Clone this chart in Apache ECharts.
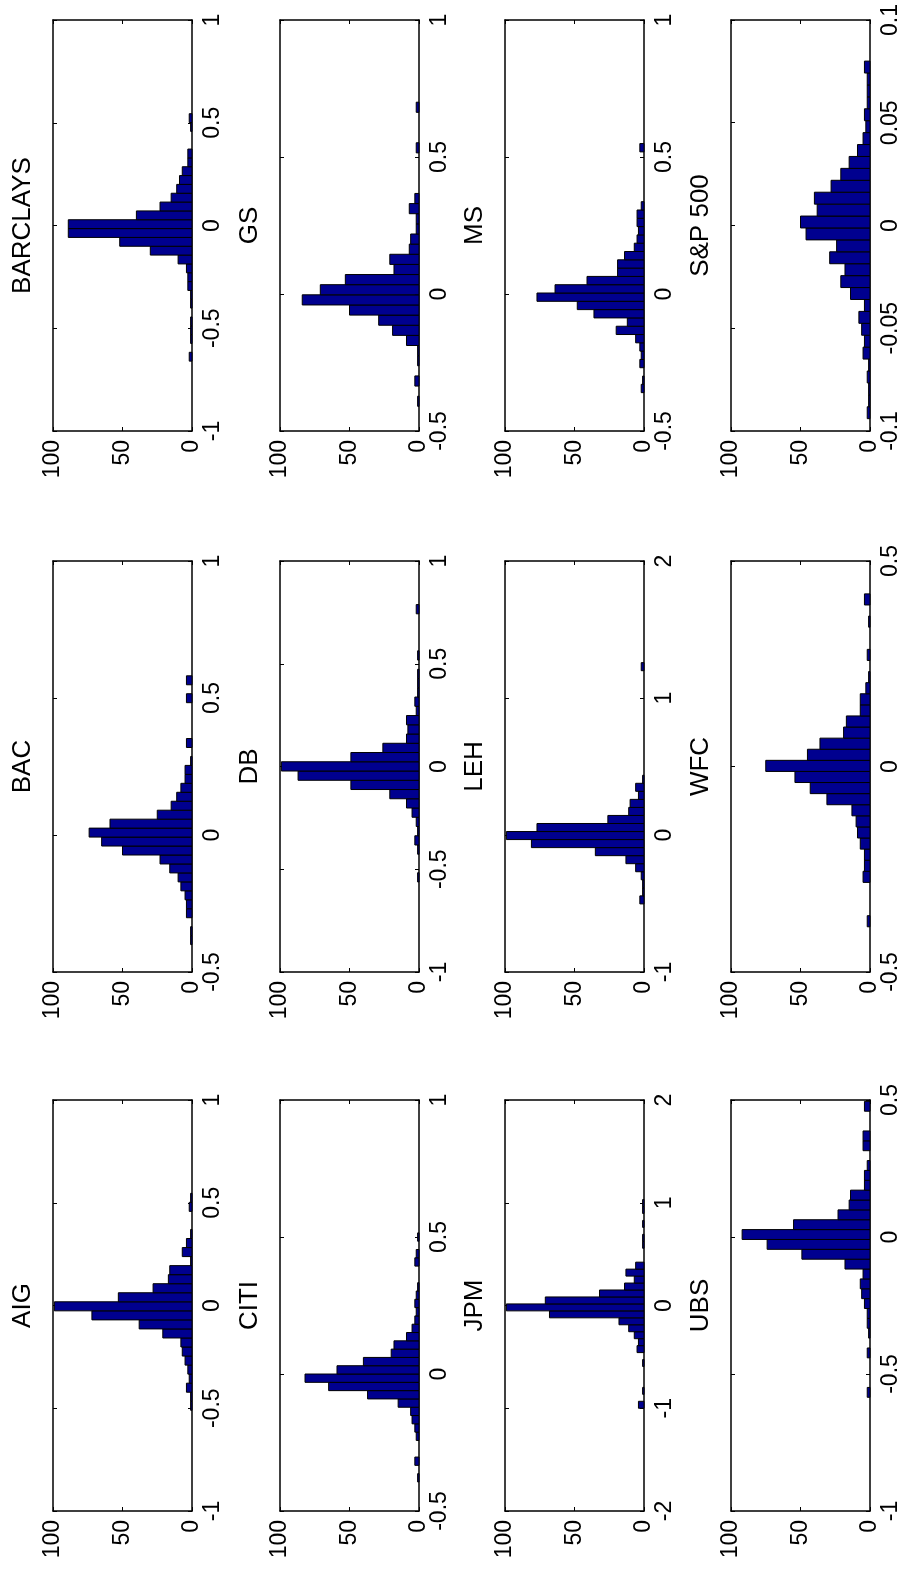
<!DOCTYPE html>
<html>
<head>
<meta charset="utf-8">
<script src="https://cdn.jsdelivr.net/npm/echarts@6/dist/echarts.min.js"></script>
<style>
html,body{margin:0;padding:0;background:#fff;}
#chart{width:906px;height:1574px;}
</style>
</head>
<body>
<div id="chart"></div>
<script>
// ---------- DATA ----------
// panels in picture order: rows top->bottom, columns left->right
const panelNames = ['BARCLAYS', 'GS', 'MS', 'S&P 500',
                    'BAC', 'DB', 'LEH', 'WFC',
                    'AIG', 'CITI', 'JPM', 'UBS'];
// histogram bin start (lower edge of first bin) and bin width
const binStart = [-0.66, -0.41, -0.36, -0.094,
                  -0.40, -0.562, -0.503, -0.39,
                  -0.51, -0.394, -1.0, -0.585];
const binWidth = [0.043, 0.037, 0.0303, 0.0058,
                  0.0327, 0.045, 0.0587, 0.027,
                  0.044, 0.0303, 0.0677, 0.036];
// value-axis ranges and tick steps
const axisMin  = [-1, -0.5, -0.5, -0.1,  -0.5, -1, -1, -0.5,  -1, -0.5, -2, -1];
const axisMax  = [ 1,  1,    1,    0.1,   1,    1,  2,  0.5,   1,  1,    2,  0.5];
const axisStep = [0.5, 0.5, 0.5, 0.05,  0.5, 0.5, 1, 0.5,  0.5, 0.5, 1, 0.5];
// count axis
const countTicks = [0, 50, 100];

// bin counts
const countsBARCLAYS = [2,0,1,1,1,0,1,1,3,3,4,10,30,52,89,89,40,23,15,11,9,7,3,3,0,0,1,2];
const countsGS  = [1,0,3,0,1,1,9,19,29,50,84,71,53,18,21,7,6,2,2,7,3,0,0,0,0,2,0,0,0,2];
const countsMS  = [2,1,0,3,2,3,6,20,12,36,48,77,64,41,19,19,14,7,5,4,5,5,2,0,0,0,0,0,0,3];
const countsSP  = [2,1,1,2,1,5,4,6,8,4,14,21,18,29,24,46,50,38,40,28,21,15,9,5,3,4,2,2,2,4];
const countsBAC = [1,1,0,4,4,5,8,10,16,23,50,65,74,59,25,15,11,8,5,5,1,0,4,0,0,0,0,4,0,4];
const countsDB  = [1,0,0,1,3,1,2,5,9,21,49,87,99,49,26,9,8,9,2,3,1,1,1,0,1,0,0,0,0,2];
const countsLEH = [3,1,1,2,6,13,35,81,99,77,26,11,10,4,6,1,0,0,0,0,0,0,0,0,0,0,0,0,0,2];
const countsWFC = [2,0,0,0,5,4,4,7,9,10,13,31,43,54,75,45,36,19,17,7,7,3,1,0,2,0,0,1,0,4];
const countsAIG = [1,1,4,2,3,5,7,8,21,38,72,99,53,28,17,16,1,7,4,1,0,0,2,1];
const countsCITI= [1,0,3,0,0,2,3,5,6,15,37,65,82,59,40,20,18,9,5,3,2,3,2,1,0,0,3,2,0,1];
const countsJPM = [4,0,1,0,0,0,1,0,5,4,7,11,18,68,99,71,32,14,7,13,6,0,0,1,1,0,1,0,1,1];
const countsUBS = [2,0,0,0,2,0,1,2,2,4,6,7,5,18,49,74,92,55,23,15,14,4,4,2,0,5,5,0,0,4];

const allCounts = [countsBARCLAYS, countsGS, countsMS, countsSP,
                   countsBAC, countsDB, countsLEH, countsWFC,
                   countsAIG, countsCITI, countsJPM, countsUBS];

// ---------- LAYOUT ----------
const colLeft = [53, 280, 505, 731];
const rowTop = [20, 561, 1100];
const boxW = 139, boxH = 411;
const FONT = 'Liberation Sans, Arial, Helvetica, sans-serif';
const TICK_FS = 23, TITLE_FS = 26;

const grids = [], xAxes = [], yAxes = [], series = [], graphics = [];

panelNames.forEach((name, i) => {
  const r = Math.floor(i / 4), c = i % 4;
  grids.push({left: colLeft[c], top: rowTop[r], width: boxW, height: boxH, containLabel: false});

  const axisLine = {show: true, onZero: false, lineStyle: {color: '#000', width: 1.5}};
  const tick = {show: true, inside: true, length: 4, lineStyle: {color: '#000', width: 1}};

  // count axis (bottom, with labels) and mirror (top)
  const countAxisBase = {
    type: 'value', gridIndex: i, min: countTicks[0], max: countTicks[countTicks.length - 1],
    interval: countTicks[1] - countTicks[0], inverse: true,
    axisLine, axisTick: tick, splitLine: {show: false}
  };
  xAxes.push(Object.assign({}, countAxisBase, {
    position: 'bottom',
    axisLabel: {show: true, rotate: 90, margin: 9, fontSize: TICK_FS, fontFamily: FONT, color: '#000'}
  }));
  xAxes.push(Object.assign({}, countAxisBase, {position: 'top', axisLabel: {show: false}}));

  // value axis (right, with labels) and mirror (left)
  const valAxisBase = {
    type: 'value', gridIndex: i, min: axisMin[i], max: axisMax[i], interval: axisStep[i],
    axisLine, axisTick: tick, splitLine: {show: false}
  };
  yAxes.push(Object.assign({}, valAxisBase, {
    position: 'right',
    axisLabel: {show: true, rotate: 90, margin: 9, fontSize: TICK_FS, fontFamily: FONT, color: '#000',
                showMinLabel: true, showMaxLabel: true}
  }));
  yAxes.push(Object.assign({}, valAxisBase, {position: 'left', axisLabel: {show: false}}));

  const cnt = allCounts[i];
  const data = cnt.map((v, k) => [binStart[i] + k * binWidth[i], binStart[i] + (k + 1) * binWidth[i], v]);

  series.push({
    type: 'custom',
    coordinateSystem: 'cartesian2d',
    xAxisIndex: 2 * i, yAxisIndex: 2 * i,
    encode: {x: 2, y: [0, 1]},
    data,
    silent: true,
    renderItem: function (params, api) {
      const lo = api.value(0), hi = api.value(1), v = api.value(2);
      if (!v) return null;
      const p1 = api.coord([0, lo]);
      const p2 = api.coord([v, hi]);
      return {
        type: 'rect',
        shape: {
          x: Math.min(p1[0], p2[0]), y: Math.min(p1[1], p2[1]),
          width: Math.abs(p2[0] - p1[0]), height: Math.abs(p2[1] - p1[1])
        },
        style: {fill: '#00008f', stroke: '#000', lineWidth: 1}
      };
    }
  });

  graphics.push({
    type: 'text',
    x: colLeft[c] - 30,
    y: rowTop[r] + boxH / 2,
    rotation: Math.PI / 2,
    style: {text: name, font: 'normal ' + TITLE_FS + 'px ' + FONT, fill: '#000',
            align: 'center', verticalAlign: 'middle'}
  });
});

const chart = echarts.init(document.getElementById('chart'), null, {renderer: 'canvas'});
chart.setOption({
  backgroundColor: '#fff',
  animation: false,
  grid: grids,
  xAxis: xAxes,
  yAxis: yAxes,
  series,
  graphic: graphics
});
</script>
</body>
</html>
